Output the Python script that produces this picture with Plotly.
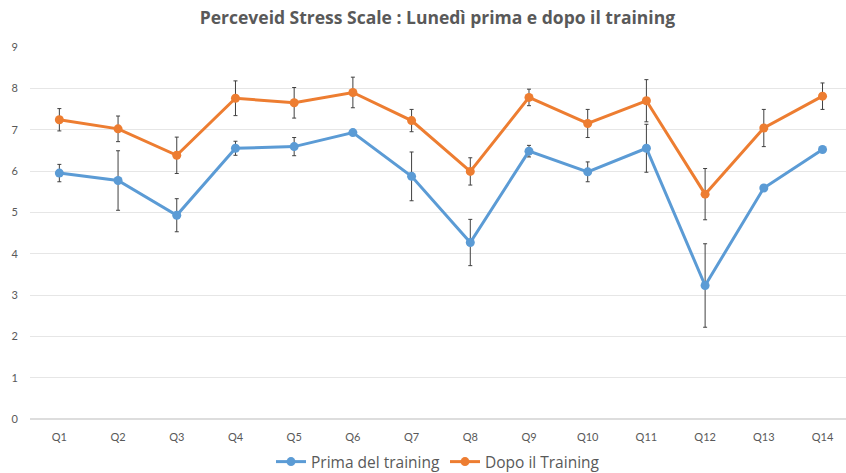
import plotly.graph_objects as go

categories = ["Q1","Q2","Q3","Q4","Q5","Q6","Q7","Q8","Q9","Q10","Q11","Q12","Q13","Q14"]
prima = [5.95, 5.77, 4.93, 6.55, 6.59, 6.93, 5.87, 4.27, 6.48, 5.98, 6.55, 3.23, 5.59, 6.52]
prima_err = [0.21, 0.72, 0.40, 0.17, 0.22, 0.05, 0.59, 0.56, 0.14, 0.24, 0.58, 1.01, 0.04, 0.05]
dopo = [7.24, 7.02, 6.38, 7.76, 7.65, 7.90, 7.22, 5.99, 7.78, 7.15, 7.70, 5.44, 7.04, 7.81]
dopo_err = [0.27, 0.31, 0.44, 0.42, 0.37, 0.37, 0.27, 0.33, 0.20, 0.34, 0.51, 0.62, 0.45, 0.32]

BLUE = "#5B9BD5"
ORANGE = "#ED7D31"
FONT = "Lato"
TFONT = "Open Sans"

fig = go.Figure()
for name, ys, err, col in [("Prima del training", prima, prima_err, BLUE),
                           ("Dopo il Training", dopo, dopo_err, ORANGE)]:
    fig.add_trace(go.Scatter(
        x=categories, y=ys, name=name, mode="lines+markers",
        line=dict(color=col, width=3),
        marker=dict(color=col, size=9),
        error_y=dict(type="data", array=err, visible=True, color="#404040",
                     thickness=1, width=2),
    ))

fig.update_layout(
    width=846, height=473,
    paper_bgcolor="white", plot_bgcolor="white",
    margin=dict(l=30, r=0, t=47, b=54, autoexpand=False),
    title=dict(text="<b>Perceveid Stress Scale : Lunedì prima e dopo il training</b>",
               x=0.517, xanchor="center", y=0.962, yanchor="middle",
               font=dict(family=TFONT, size=17.5, color="#595959")),
    font=dict(family=FONT, size=11, color="#595959"),
    showlegend=True,
    legend=dict(orientation="h", x=0.5, xanchor="center", y=-0.07, yanchor="top",
                font=dict(family=TFONT, size=15.5, color="#595959"),
                itemwidth=30, tracegroupgap=0),
    xaxis=dict(type="category", range=[-0.5, 13.4], showgrid=False, automargin=False,
               showline=False, zeroline=False, ticks="", ticklabelstandoff=10,
               tickfont=dict(size=11, color="#595959")),
    yaxis=dict(range=[0, 9], dtick=1, showgrid=True, gridcolor="#E6E6E6", automargin=False,
               gridwidth=1, zeroline=True, zerolinecolor="#DDDDDD",
               showline=False, ticks="", ticklabelstandoff=11,
               tickfont=dict(size=11, color="#595959")),
)

fig.write_html("out.html", config={"displayModeBar": False},
               post_script="document.body.style.margin='0';document.body.style.overflow='hidden';")
